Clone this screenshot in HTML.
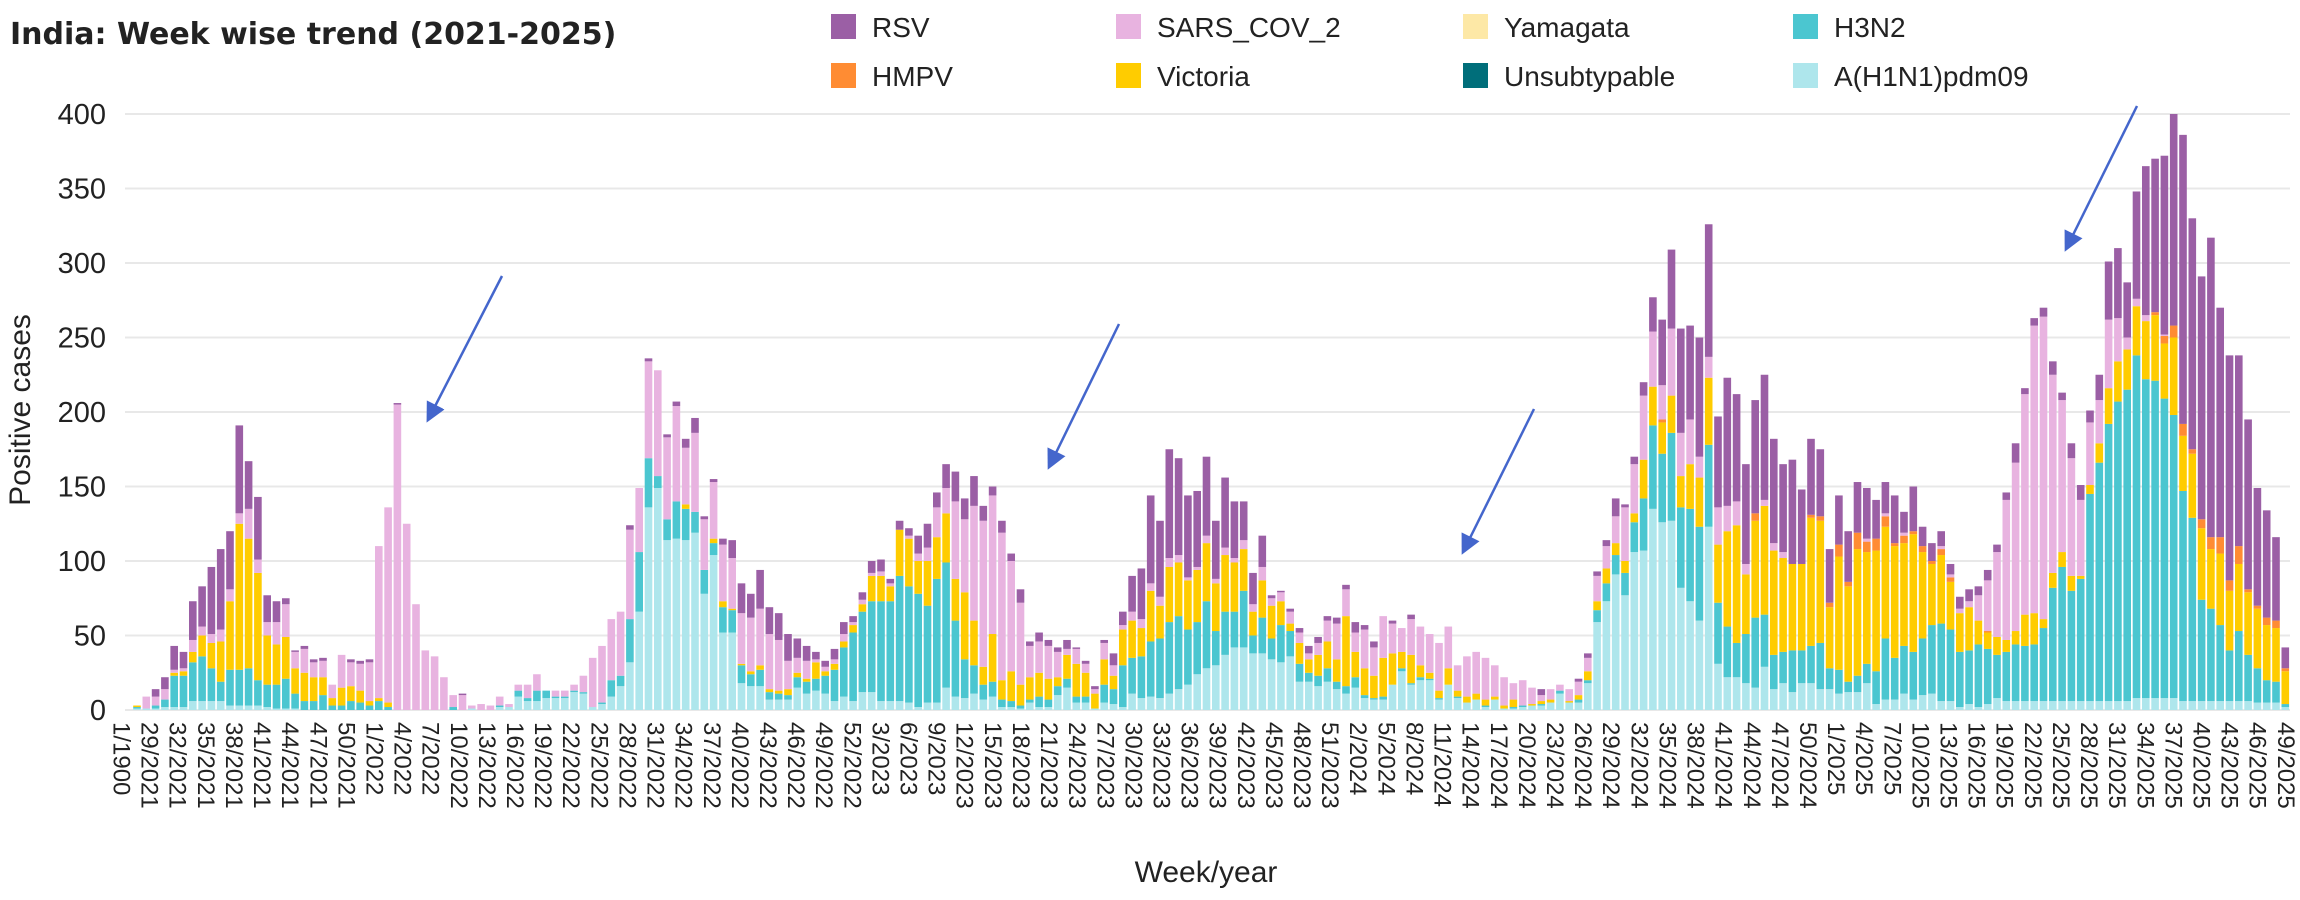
<!DOCTYPE html>
<html><head><meta charset="utf-8"><style>
html,body{margin:0;padding:0;background:#fff;}
svg{display:block;font-family:"Liberation Sans",sans-serif;}
</style></head><body>
<svg id="c" width="2300" height="900" xmlns="http://www.w3.org/2000/svg">
<defs><marker id="ah" markerWidth="8" markerHeight="8" refX="5" refY="4" orient="auto" markerUnits="strokeWidth"><path d="M0,0 L8,4 L0,8 z" fill="#4466cc"/></marker></defs>
<text x="10" y="44" font-size="30" font-weight="bold" fill="#222" font-family="DejaVu Sans, sans-serif">India: Week wise trend (2021-2025)</text>
<g font-size="28" fill="#222">
<rect x="831" y="14" width="25" height="25" fill="#9b5fa5"/><text x="872" y="37">RSV</text>
<rect x="1116" y="14" width="25" height="25" fill="#e8b3e0"/><text x="1157" y="37">SARS_COV_2</text>
<rect x="1463" y="14" width="25" height="25" fill="#fde8a6"/><text x="1504" y="37">Yamagata</text>
<rect x="1793" y="14" width="25" height="25" fill="#4bc6d0"/><text x="1834" y="37">H3N2</text>
<rect x="831" y="63" width="25" height="25" fill="#ff8c33"/><text x="872" y="86">HMPV</text>
<rect x="1116" y="63" width="25" height="25" fill="#ffcc00"/><text x="1157" y="86">Victoria</text>
<rect x="1463" y="63" width="25" height="25" fill="#006e7a"/><text x="1504" y="86">Unsubtypable</text>
<rect x="1793" y="63" width="25" height="25" fill="#aee6ec"/><text x="1834" y="86">A(H1N1)pdm09</text>
</g>
<g id="grid"></g><g id="bars"></g><g id="xl" font-size="24" fill="#222"></g>
<text transform="translate(30,410) rotate(-90)" text-anchor="middle" font-size="30" fill="#222">Positive cases</text>
<text x="1206" y="882" text-anchor="middle" font-size="30" fill="#222">Week/year</text>
<g stroke="#4466cc" stroke-width="2.5" marker-end="url(#ah)">
<line x1="502" y1="276" x2="430" y2="416"/>
<line x1="1119" y1="324" x2="1051" y2="463"/>
<line x1="1534" y1="409" x2="1465" y2="548"/>
<line x1="2137" y1="106" x2="2068" y2="245"/>
</g>
</svg>
<script>
(function(){
// [h1top, h3top, victop, hmpvtop, sarstop, total]
var D=[[1,2,3,0,3,3],[1,1,1,0,9,9],[1,3,3,0,9,14],[2,7,7,0,14,22],[2,23,25,0,27,43],[2,23,26,0,28,39],[6,32,39,0,47,73],[6,36,50,0,56,83],[6,28,45,0,51,96],[6,19,46,0,54,108],
[3,27,73,0,81,120],[3,27,125,0,132,191],[3,28,115,0,135,167],[3,20,92,0,101,143],[2,17,50,0,59,77],[1,17,44,0,59,73],[1,21,49,0,71,75],[1,11,28,0,39,40],[0,6,25,0,41,43],[0,6,22,0,32,34],
[0,10,22,0,33,35],[0,3,8,0,17,17],[0,3,15,0,37,37],[0,6,16,0,32,34],[0,5,13,0,31,33],[0,3,6,0,32,34],[0,6,8,0,110,110],[0,2,5,0,136,136],[0,0,0,0,205,206],[0,0,0,0,125,125],
[0,0,0,0,71,71],[0,0,0,0,40,40],[0,0,0,0,36,36],[0,0,0,0,22,22],[0,2,2,0,10,10],[0,0,0,0,10,11],[1,1,1,0,3,3],[0,0,0,0,4,4],[0,0,0,0,3,3],[2,3,3,0,9,9],
[2,2,2,0,4,4],[9,13,13,0,17,17],[6,8,8,0,17,17],[6,13,13,0,24,24],[8,13,13,0,13,13],[8,9,9,0,13,13],[8,9,9,0,13,13],[12,13,13,0,17,17],[11,12,12,0,23,23],[2,2,2,0,35,35],
[4,5,5,0,43,43],[9,20,20,0,61,61],[16,23,23,0,66,66],[32,61,61,0,121,124],[66,106,106,0,149,149],[136,169,169,0,234,236],[149,157,157,0,228,228],[114,128,128,0,183,185],[115,140,140,0,204,207],[114,135,138,0,176,182],
[119,133,133,0,186,196],[78,94,94,0,128,130],[104,112,115,0,153,155],[52,69,73,0,111,115],[52,67,68,0,102,114],[18,30,31,0,65,85],[16,24,26,0,62,78],[16,27,30,0,68,94],[7,12,14,0,51,69],[7,11,13,0,47,65],
[7,10,14,0,33,51],[15,22,25,0,35,48],[11,19,21,0,33,43],[13,21,32,0,34,39],[11,23,26,0,29,33],[6,27,31,0,34,41],[9,42,46,0,51,59],[6,52,57,0,59,63],[12,66,71,0,74,79],[12,73,90,0,92,100],
[6,73,90,0,93,101],[6,73,83,0,85,88],[6,90,121,0,121,127],[5,83,115,0,117,122],[2,78,100,0,105,117],[5,70,100,0,109,125],[5,88,116,0,136,146],[15,99,132,0,149,165],[9,60,88,0,140,160],[8,34,79,0,128,142],
[11,30,60,0,137,157],[7,17,29,0,127,137],[9,19,51,0,144,150],[2,7,20,0,119,127],[2,6,26,0,100,105],[1,3,17,0,72,81],[5,7,22,0,43,46],[2,9,25,0,46,52],[2,7,21,0,43,47],[10,16,22,0,39,42],
[15,21,37,0,41,47],[5,9,31,0,41,42],[5,9,25,0,31,33],[1,1,11,0,14,16],[5,17,34,0,45,47],[4,14,23,0,30,38],[2,30,54,0,57,66],[11,35,60,0,66,90],[8,36,55,0,61,95],[9,46,80,0,85,144],
[8,48,70,0,76,127],[11,59,96,0,102,175],[14,63,99,0,104,169],[17,54,87,0,89,144],[24,59,94,0,96,147],[28,73,112,0,117,170],[30,53,85,0,88,127],[37,66,104,0,109,156],[42,66,99,0,102,140],[42,80,108,0,114,140],
[38,50,66,0,71,92],[38,62,87,0,96,117],[34,48,70,0,75,77],[32,57,73,0,79,80],[36,53,58,0,66,68],[19,31,45,0,52,55],[19,25,34,0,38,43],[16,23,37,0,45,49],[19,28,46,0,60,63],[14,19,34,0,58,62],
[11,16,63,0,81,84],[15,22,39,0,52,59],[8,10,28,0,54,57],[7,8,23,0,42,46],[7,9,35,0,63,63],[17,17,38,0,58,60],[26,28,39,0,55,55],[17,18,37,0,61,64],[20,22,30,0,56,56],[20,21,25,0,51,51],
[7,8,13,0,45,45],[17,17,28,0,56,56],[8,9,13,0,30,30],[5,5,9,0,36,36],[7,7,11,0,39,39],[2,3,7,0,35,35],[7,7,9,0,30,30],[1,1,3,0,22,22],[1,2,7,0,18,18],[2,3,3,0,20,20],
[3,3,4,0,15,15],[3,4,6,0,10,14],[5,5,7,0,14,14],[11,13,13,0,17,17],[5,5,6,0,14,14],[5,7,10,0,19,21],[18,20,26,0,35,38],[59,67,73,0,90,93],[73,85,95,0,110,114],[91,104,112,0,130,142],
[77,92,100,0,136,138],[106,126,132,0,165,170],[107,142,168,0,211,220],[135,191,217,0,254,277],[126,172,193,195,218,262],[127,186,211,0,256,309],[82,136,157,0,186,256],[73,135,165,0,195,258],[60,123,156,0,170,250],[123,178,223,0,237,326],
[31,72,111,0,136,197],[22,56,120,0,137,223],[22,45,124,0,140,212],[18,51,91,0,98,165],[15,62,127,132,132,208],[29,64,137,0,141,225],[14,37,107,0,112,182],[18,39,102,0,106,165],[12,40,98,0,98,168],[18,40,98,0,98,148],
[18,43,129,131,131,182],[14,45,127,130,130,175],[14,28,69,72,72,108],[11,27,103,111,111,144],[12,19,83,86,86,120],[12,23,108,119,119,153],[18,31,106,113,115,149],[4,26,107,115,115,141],[7,48,123,130,132,153],[7,35,110,112,112,144],
[11,43,112,117,119,133],[7,39,118,120,120,150],[10,48,106,110,110,123],[11,57,98,100,100,112],[6,58,104,108,110,120],[6,54,86,89,91,98],[2,39,65,0,68,76],[4,40,69,0,73,81],[2,44,60,0,77,83],[4,41,52,53,87,94],
[8,37,49,0,106,111],[6,39,47,0,141,146],[6,44,53,0,166,179],[6,43,64,0,212,216],[6,44,65,0,258,263],[6,55,61,0,264,270],[6,82,92,0,225,234],[6,96,106,0,208,213],[6,80,90,0,169,179],[6,88,90,0,141,151],
[6,145,151,0,193,201],[6,166,179,0,208,225],[6,192,216,0,262,301],[6,207,234,0,263,310],[6,215,242,0,250,287],[8,238,271,0,276,348],[8,222,261,0,265,365],[8,221,265,267,267,370],[8,209,246,251,252,372],[8,198,250,258,258,400],
[6,147,184,192,192,386],[6,129,172,175,175,330],[6,74,122,128,128,291],[6,68,108,116,116,317],[6,57,105,116,116,270],[6,40,80,87,87,238],[6,53,98,110,110,238],[6,37,79,81,81,195],[5,28,68,70,70,149],[5,20,57,62,62,134],
[5,19,55,60,60,116],[2,4,26,28,28,42]];
var NS="http://www.w3.org/2000/svg";
function el(tag,at,p){var e=document.createElementNS(NS,tag);for(var k in at)e.setAttribute(k,at[k]);p.appendChild(e);return e;}
var Y0=710,S=1.49;
var g=document.getElementById('grid');
for(var v=0;v<=400;v+=50){var y=Y0-v*S;
 el('line',{x1:125,x2:2290,y1:y,y2:y,stroke:'#e8e8e8','stroke-width':2},g);
 var tx=el('text',{x:106,y:y+10,'text-anchor':'end','font-size':29,fill:'#222'},g);tx.textContent=v;}
var bars=document.getElementById('bars'),xl=document.getElementById('xl');
var N=D.length,x0=137,P=9.3,W=7.6;
var cols=['#aee6ec','#4bc6d0','#ffcc00','#ff8c33','#e8b3e0','#9b5fa5'];
for(var i=0;i<N;i++){
 var cx=x0+i*P,d=D[i];
 var prev=0;
 for(var s=0;s<6;s++){var tv=Math.max(prev,d[s]);
  if(tv-prev>0.2){
   el('rect',{x:(cx-W/2).toFixed(2),y:(Y0-tv*S).toFixed(2),width:W,height:((tv-prev)*S).toFixed(2),fill:cols[s]},bars);}
  prev=tv;}
 if(i%3==0){
  var lab;
  if(i==0)lab='1/1900';else{var w=26+i,yr=2021;while(w>52){w-=52;yr++;}lab=w+'/'+yr;}
  var lx=cx-16*(1-i/231);
  var lt=el('text',{x:0,y:0,transform:'translate('+lx.toFixed(2)+',722) rotate(90)','dominant-baseline':'central'},xl);lt.textContent=lab;}
}
})();
</script>
</body></html>
